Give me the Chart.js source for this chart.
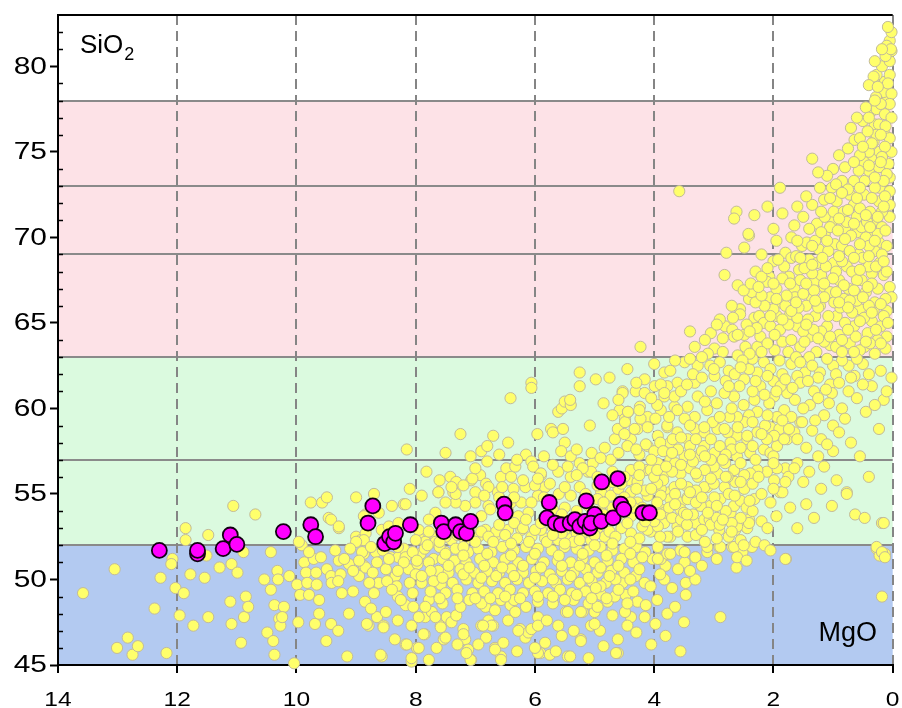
<!DOCTYPE html>
<html>
<head>
<meta charset="utf-8">
<script src="https://cdn.jsdelivr.net/npm/chart.js@4.4.1/dist/chart.umd.min.js"></script>
<style>
  html, body { margin: 0; padding: 0; background: #fff; }
  #wrap { width: 902px; height: 708px; position: relative; }
</style>
</head>
<body>
<div id="wrap"><canvas id="chart"></canvas></div>
<script>
// ================= DATA =================
// whole-rock compilation, [MgO wt%, SiO2 wt%]
const compilation = [
  [13.58,49.2],[13.05,50.6],[13.01,46.0],[12.83,46.6],[12.75,45.6],[12.66,46.1],[12.38,48.3],[12.28,50.1],[12.18,45.7],[12.08,51.2],
  [12.1,50.9],[12.03,49.5],[11.89,49.2],[11.96,47.9],[11.86,53.0],[11.86,52.3],[11.78,50.3],[11.73,47.3],[11.54,50.1],[11.48,52.6],
  [11.48,47.8],[11.51,51.4],[11.29,50.7],[11.11,48.7],[11.09,47.4],[11.06,54.3],[11.09,50.9],[10.99,50.4],[10.88,47.8],[10.93,46.3],
  [10.85,49.0],[10.81,48.4],[10.89,51.6],[10.69,53.8],[10.54,50.0],[10.49,46.9],[10.43,51.6],[10.39,46.4],[10.37,45.6],[10.43,49.4],
  [10.37,48.5],[10.32,50.5],[10.31,50.0],[10.29,47.7],[10.27,47.3],[10.21,48.4],[10.12,50.2],[10.24,47.8],[10.04,45.1],[9.97,47.5],
  [9.99,49.7],[9.94,49.1],[9.91,52.0],[9.87,51.0],[9.84,50.4],[9.82,49.8],[9.79,49.1],[9.76,54.5],[9.71,51.2],[9.67,50.4],
  [9.66,49.7],[9.62,48.8],[9.69,47.4],[9.62,48.0],[9.57,54.5],[9.49,54.8],[9.46,53.6],[9.59,51.3],[9.49,50.6],[9.42,50.2],
  [9.41,49.8],[9.42,47.4],[9.29,53.0],[9.29,51.1],[9.26,50.3],[9.24,49.2],[9.12,48.0],[9.15,45.5],[9.12,50.9],[9.0,54.8],
  [9.0,52.5],[8.95,50.2],[8.92,52.3],[8.87,51.5],[8.87,50.8],[8.84,50.7],[8.84,53.8],[8.84,52.7],[8.7,55.0],[8.79,47.3],
  [8.65,47.8],[8.62,49.8],[8.57,45.5],[8.57,52.9],[8.54,47.3],[8.5,48.1],[8.5,50.6],[8.45,53.1],[8.42,51.3],[8.4,54.3],
  [8.37,50.0],[8.34,50.2],[8.29,53.3],[8.32,49.6],[8.3,49.0],[8.29,51.3],[8.2,54.4],[8.2,51.8],[8.17,48.5],[8.17,46.2],
  [8.12,50.6],[8.07,47.3],[8.07,45.2],[8.04,48.4],[7.98,46.0],[7.97,50.9],[7.94,52.4],[7.92,51.5],[7.9,49.8],[7.84,47.8],
  [7.85,46.8],[7.78,45.3],[7.78,48.8],[7.73,48.1],[7.7,51.2],[7.67,53.9],[7.62,55.1],[7.62,50.5],[7.58,49.7],[7.58,47.3],
  [7.53,46.5],[7.48,47.8],
  [8.59,45.6],[8.82,47.4],[8.54,47.2],[8.15,46.2],[8.07,45.4],[7.95,46.0],[7.87,46.8],[7.95,47.8],[7.84,48.4],[7.67,47.8],
  [7.58,47.2],[7.5,46.6],[7.4,47.5],[7.32,47.9],[7.25,48.4],[7.2,47.1],[7.17,46.5],[7.12,45.9],[7.07,45.3],[6.9,47.3],
  [6.82,46.6],[6.78,47.6],[6.7,47.3],[6.67,46.0],[6.57,45.5],[6.83,48.4],[6.67,48.2],[6.57,48.8],[6.41,48.5],[6.33,48.1],
  [6.25,47.1],[6.16,46.6],[6.11,46.9],[6.06,47.1],[5.95,47.8],[5.91,45.7],[5.83,46.3],[5.75,45.6],[5.61,47.3],[5.48,48.1],
  [5.45,45.5],[5.23,46.5],[5.2,48.1],[5.06,47.3],[5.0,48.1],[4.91,47.0],[4.78,48.7],[4.61,46.5],[4.61,45.7],[4.39,47.8],
  [4.16,47.8],[4.28,48.7],[4.14,48.5],[4.48,49.1],[4.66,49.0],[4.89,49.1],[4.81,49.8],[4.53,49.8],[4.31,50.2],[4.16,49.8],
  [4.03,51.2],[4.06,49.6],
  [5.95,45.7],[5.65,45.8],[5.41,45.5],[5.23,46.4],[5.0,47.4],[4.64,45.7],[4.49,48.1],[5.23,48.1],[5.45,48.1],[5.95,47.3],
  [6.28,47.0],[6.53,46.3],[6.73,47.3],[6.87,47.3],[7.2,46.8],[7.08,45.3],[7.15,45.7],[6.57,45.3],[6.67,45.9],
  [3.74,55.1],[3.56,54.5],[3.44,54.8],[3.31,53.3],[3.16,53.5],[3.06,54.3],[2.91,52.9],[2.72,53.9],[2.64,52.9],[2.47,53.1],
  [2.32,54.7],[2.41,53.5],[1.89,55.1],[1.72,54.2],[1.32,53.6],[1.02,54.3],[0.77,55.1],[0.63,53.8],[0.47,53.6],[0.18,53.3],
  [0.27,51.8],[0.22,51.4],[0.13,51.5],[0.18,49.0],[1.79,51.2],[2.62,50.7],[2.89,47.8],[3.56,45.8],[3.81,46.7],[3.98,47.4],
  [3.78,48.0],[3.47,49.8],[3.31,50.0],[3.47,49.1],[3.81,50.8],[3.83,50.0],[3.49,51.0],[3.31,51.3],[3.11,51.6],[2.91,51.9],
  [2.69,51.9],[2.52,51.6],[2.36,51.9],[3.89,51.2],[3.78,51.5],[3.56,51.7],[3.94,51.9],
  [1.15,56.6],[0.94,55.8],[0.4,56.0],[0.77,55.0],[1.85,55.1],[1.6,56.8],[1.8,56.5],[1.94,56.5],[1.99,55.8],[2.11,56.3],
  [2.27,56.4],[2.39,56.2],[2.49,55.3],[2.44,53.0],[2.61,53.1],[2.66,54.3],[3.07,53.5],[2.89,54.7],[2.99,54.8],[3.11,55.4],
  [2.82,55.4],[2.64,55.7],[2.49,56.1],[2.66,56.4],[2.77,56.0],[2.94,56.2],[2.81,56.8],[2.61,57.2],[2.39,57.4],[2.16,57.6],
  [2.05,57.4],[1.94,57.8],[1.77,58.2],[1.65,58.6],[1.55,59.2],[2.05,58.9],[2.27,58.6],[2.44,58.2],[2.61,58.4],[2.77,58.6],
  [2.94,58.8],[3.16,58.6],[3.32,58.8],[3.44,58.2],[3.61,58.6],[3.78,58.9],[3.94,58.4],[4.11,57.8],[3.73,58.0],[3.16,57.8],
  [2.99,57.4],[3.27,57.2],[3.49,57.2],[3.73,57.0],[3.94,56.8],[4.14,56.4],[3.83,56.2],[3.56,56.2],[3.27,56.0],[3.16,55.4],
  [3.44,55.4],[3.66,55.4],[3.89,55.3],[4.11,54.9],[3.73,54.7],[3.44,54.7],[3.22,54.3],[3.56,54.1],[3.89,54.1],[3.83,53.3],
  [3.61,53.1],[3.44,52.5],[3.73,52.5],[4.06,52.8],[2.41,53.3],[3.11,51.9],[2.89,51.9],[2.66,51.9],[2.61,51.3],[3.31,51.3],
  [3.49,51.6],[3.73,51.5],[3.94,51.2],[1.8,51.2],[0.27,51.9],[0.18,51.6],[0.13,51.3],[0.15,53.3],
  [8.15,57.6],[7.82,56.3],[7.62,55.1],[8.17,54.4],[7.42,56.0],[7.32,55.7],[7.25,58.5],[7.08,57.2],[7.07,55.8],[7.0,55.1],
  [6.92,56.1],[6.9,57.5],[6.8,57.8],[6.82,55.6],[6.7,58.4],[6.57,56.0],[6.48,56.5],[6.41,60.6],[6.4,56.0],[6.33,56.6],
  [6.36,55.3],[6.15,57.3],[6.06,61.5],[6.06,61.2],[6.06,56.9],[6.03,56.6],[5.96,58.5],[5.9,56.1],[5.83,55.4],[5.73,58.8],
  [5.7,58.6],[5.61,59.8],[5.55,60.0],[5.5,60.4],[5.4,60.2],[5.41,60.5],[5.53,58.8],[5.5,58.0],[5.56,57.5],[5.4,57.2],
  [5.25,62.1],[5.25,61.3],[4.98,61.7],[5.08,59.0],[5.25,56.8],[5.11,56.3],[5.03,56.8],[4.83,57.7],[4.83,55.4],[4.73,57.0],
  [4.66,58.2],[4.61,58.8],[4.58,59.9],[4.53,61.0],[4.49,59.4],[4.44,59.8],[4.39,58.2],[4.39,56.4],[4.31,61.0],[4.24,60.1],
  [4.28,58.8],[4.23,63.6],[4.16,61.7],[4.16,60.9],[4.11,59.5],[4.14,57.9],[4.06,56.4],[3.99,61.3],[3.89,59.9],[3.83,62.1],
  [3.83,60.7],[3.78,59.0],[3.73,62.2],[3.69,58.2],[3.66,60.1],
  [6.16,55.4],[5.95,54.9],[5.61,56.3],[5.4,56.0],[5.25,55.4],[5.06,56.3],[4.89,55.1],[4.73,54.9],[4.44,55.8],[4.39,55.1],
  [4.28,55.7],[4.28,54.5],[4.39,53.7],[4.39,52.7],[4.11,52.9],[3.89,54.9],[3.83,53.9],[3.94,53.1],[3.78,52.5],[4.83,52.5],
  [5.06,52.3],[5.4,52.4],[5.61,52.3],[5.83,52.4],[6.06,52.5],[6.23,52.9],[6.45,52.9],[6.67,52.5],[6.83,52.9],[6.9,53.7],
  [6.78,54.3],[6.4,54.5],[6.23,54.5],[6.06,54.5],[6.11,53.9],[6.28,53.7],[6.95,52.5],[7.17,52.3],[7.4,52.3],[7.67,52.5],
  [7.84,52.2],[7.95,52.9],[7.78,53.5],[6.78,55.4],[6.62,55.1],[7.0,54.5],[7.17,54.3],[7.33,54.5],[7.5,54.5],[7.37,55.1],
  [9.42,53.5],[9.29,53.1],[8.87,53.7],[8.62,53.9],[7.33,55.0],[7.4,55.4],[7.05,55.9],[6.75,54.1],[6.65,52.8],[9.96,52.2],
  [9.79,51.6],[8.87,52.3],[9.0,52.2],[8.9,51.6],[8.67,51.6],[8.17,51.3],[8.0,52.3],[7.78,52.8],[7.67,52.2],[7.5,52.5],
  [7.5,51.6],[7.33,51.8],[7.12,51.6],[6.9,52.8],[6.78,52.5],[6.73,51.6],
  [2.41,70.1],[2.49,69.4],[2.79,69.1],[2.82,67.8],[3.32,63.6],[2.99,63.5],[2.81,64.8],[2.69,64.6],[2.66,64.2],[2.49,64.3],
  [2.47,63.6],[2.27,63.6],[2.22,64.2],[2.56,65.8],[2.56,65.5],[2.41,66.4],[2.36,66.8],[2.32,65.3],[2.24,65.4],[2.16,65.0],
  [2.05,66.5],[2.05,64.8],[2.07,67.7],[2.11,67.4],[1.9,66.2],[1.94,65.4],[1.89,64.6],[1.85,63.9],[1.82,68.3],[1.8,69.1],
  [1.74,67.7],[1.72,65.5],[1.65,67.0],[1.64,66.5],[1.6,64.8],[1.57,68.1],[1.55,67.5],[1.52,69.5],[1.44,69.7],[1.4,68.7],
  [1.39,64.2],[1.35,66.4],[1.32,67.4],[1.27,68.5],[1.3,65.4],[1.24,69.3],[1.22,66.0],[1.15,67.1],[1.14,70.2],[1.1,64.8],
  [1.05,63.7],[0.99,68.5],[0.97,69.6],[0.94,65.4],[0.9,67.5],[0.85,69.5],[0.82,66.4],[0.77,68.3],[0.74,67.0],[0.72,63.8],
  [0.65,64.8],[0.6,70.3],[0.57,69.0],[0.55,65.8],[0.52,67.5],[0.47,63.6],[0.38,70.2],[0.35,67.9],[0.35,65.1],[0.32,65.7],
  [0.3,63.2],[0.23,69.7],[0.22,68.5],[0.15,67.8],[0.1,65.7],[0.05,67.1],[0.02,66.5],[0.02,61.8],[0.23,58.8],[0.74,62.5],
  [0.64,61.9],[0.74,61.0],[1.05,61.4],[1.02,60.9],[1.07,60.3],[1.15,59.6],[1.32,61.0],[1.39,60.2],[1.52,59.2],[1.47,62.1],
  [1.6,61.9],[1.64,60.5],[1.77,60.9],[1.82,59.9],[1.94,59.5],[1.99,60.7],[2.07,60.3],[1.9,58.8],[1.99,58.4],[2.14,59.0],
  [2.22,61.3],[2.27,62.1],[2.16,62.7],[2.05,62.3],[2.41,62.3],[2.49,61.7],[2.57,61.3],[2.66,60.7],[2.82,60.9],[2.32,60.5],
  [2.27,59.8],[2.41,59.6],[2.49,59.2],[2.61,59.5],[2.74,59.5],[2.82,58.8],[2.99,61.9],[3.06,62.5],[3.27,62.5],[3.49,62.7],
  [3.32,61.5],[3.61,61.5],[3.78,61.3],[3.66,60.7],[3.44,60.1],[3.27,60.7],[3.11,59.9],[3.02,59.2],[3.16,58.9],[3.32,59.5],
  [3.49,59.4],[3.61,59.9],[3.98,59.4],[4.11,58.9],[4.23,59.4],[4.33,58.8],[4.49,59.2],[4.44,59.8],[4.53,60.9],[3.89,61.4],
  [3.83,60.9],[2.72,58.0],[2.44,58.4],[2.11,58.2],[1.74,58.8],[1.6,58.2],[1.82,58.2],
  [1.7,70.0],[1.95,69.8],[2.2,69.0],[2.0,68.6],[2.3,68.0],[2.6,67.2],[2.5,66.9],[2.7,66.0],[2.9,65.2],[3.05,64.4],
  [3.15,64.0],[3.4,64.5],[3.1,63.2],[2.85,63.3],[2.6,63.1],[2.35,62.9],[1.98,63.4],[1.75,63.3],[1.55,63.6],[1.28,63.3],
  [1.2,64.5],[0.9,64.3],[0.8,65.0],[0.6,66.3],[0.45,66.8],[0.3,66.2],[0.2,64.8],[0.1,64.2],[0.42,64.4],[0.55,63.4],
  [0.85,62.8],[1.0,62.5],[1.22,62.1],[1.4,63.0],[1.7,62.6],[1.85,62.0],[2.0,61.6],[1.88,61.3],[1.55,61.5],[1.25,61.8],
  [0.95,62.0],[0.5,62.6],[0.35,61.3],[0.15,60.5],[1.05,66.8],[1.2,67.8],[1.45,66.0],[1.6,65.3],[1.8,66.0],[2.0,65.8],
  [2.15,66.0],[2.3,66.2],[1.5,64.5],[1.7,64.0],[2.1,63.8],[2.4,63.2],[0.68,68.0],[0.5,68.8],[0.3,69.2],[0.1,69.5],
  [0.45,70.0],[0.8,70.5],[1.0,71.0],[0.25,67.0],[0.4,68.3],[0.6,67.5],[0.95,68.0],[1.35,67.9],[1.7,68.8],
  [1.35,74.6],[0.8,74.1],[0.85,73.3],[0.64,75.7],[0.55,75.8],[1.89,72.9],[2.32,71.3],[2.62,71.5],[2.66,71.1],[2.42,70.2],
  [3.58,72.7],[1.35,71.9],[1.22,72.9],[1.02,72.9],[1.15,72.2],[1.27,70.8],[1.14,71.2],[0.94,72.1],[0.99,71.5],[1.05,70.6],
  [0.82,71.5],[0.77,70.9],[0.72,72.5],[0.65,71.9],[0.6,71.2],[0.52,70.6],[0.48,72.5],[0.47,73.3],[0.4,73.9],[0.38,71.5],
  [0.35,74.7],[0.32,75.6],[0.3,76.6],[0.35,77.4],[0.27,77.5],[0.22,75.0],[0.23,74.1],[0.22,72.9],[0.23,72.1],[0.27,70.9],
  [0.18,70.6],[0.15,76.2],[0.13,77.2],[0.1,78.0],[0.15,78.5],[0.22,79.1],[0.13,79.1],[0.27,79.5],[0.18,80.0],[0.05,80.3],
  [0.02,80.9],[0.05,81.5],[0.02,82.0],[0.05,79.5],[0.02,78.4],[0.05,77.8],[0.02,77.0],[0.05,75.8],[0.02,75.0],[0.07,74.3],
  [0.05,73.5],[0.05,72.7],[0.05,71.9],[0.05,71.2],[0.13,75.3],[0.18,74.7],[0.1,73.7],[0.15,73.3],[0.3,72.9],[0.13,72.4],
  [0.18,71.5],[0.43,70.9],[0.55,71.7],[0.23,76.6],[0.27,76.0],[0.4,75.0],[0.48,74.4],[0.57,73.9],[0.65,73.3],
  [0.32,79.4],[0.4,78.9],[0.28,78.2],[0.45,77.6],[0.5,76.8],[0.42,76.2],[0.6,77.0],[0.7,76.4],[0.75,75.2],[0.9,74.8],
  [1.0,74.0],[1.1,73.6],[1.25,73.8],[0.95,73.1],[0.75,72.8],[0.6,72.3],[0.85,72.6],[1.45,72.4],[1.6,71.8],[1.5,71.2],
  [1.4,70.5],[1.65,70.7],[1.85,71.4],[2.0,70.5],[2.1,71.8],[0.55,74.8],[0.65,74.4],[0.12,76.5],[0.2,77.8],[0.08,79.0],
  [0.12,80.6],[0.1,81.2],[0.08,82.3],[0.03,81.0],[0.3,80.3],[0.18,81.0],
  [9.35,51.7],[9.1,51.8],[8.75,51.9],[8.55,51.7],[8.3,51.9],[8.05,51.6],[7.85,51.8],[7.6,51.9],[7.2,51.9],[6.95,51.8],
  [6.55,51.9],[6.35,51.7],[6.15,51.9],[5.95,51.8],[5.72,51.7],[5.5,51.9],[5.3,51.8],[5.1,51.7],[4.9,51.9],[4.7,51.7],
  [4.5,51.8],[4.3,51.9],[4.15,51.6],
  [9.2,51.2],[8.95,51.1],[8.65,51.0],[8.45,51.2],[8.2,51.0],[7.98,51.1],[7.78,51.0],[7.55,51.2],[7.35,51.1],[7.15,51.0],
  [6.92,51.2],[6.7,51.0],[6.5,51.2],[6.28,51.0],[6.05,51.2],[5.85,51.0],[5.62,51.1],[5.4,51.0],[5.2,51.2],[5.0,51.0],
  [4.78,51.1],[4.55,51.2],[4.35,51.0],[4.2,51.3],
  [9.05,50.5],[8.72,50.4],[8.3,50.5],[8.0,50.3],[7.75,50.5],[7.45,50.4],[7.25,50.6],[7.02,50.4],[6.8,50.5],[6.6,50.4],
  [6.4,50.6],[6.2,50.4],[5.98,50.5],[5.75,50.3],[5.55,50.5],[5.35,50.4],[5.15,50.6],[4.95,50.4],[4.72,50.5],[4.5,50.4],
  [4.25,50.6],
  [9.3,49.9],[8.78,49.8],[8.48,49.9],[8.1,49.8],[7.7,49.9],[7.38,49.8],[7.15,50.0],[6.95,49.8],[6.72,49.9],[6.5,49.8],
  [6.3,50.0],[6.1,49.8],[5.88,49.9],[5.65,49.8],[5.45,50.0],[5.25,49.8],[5.05,49.9],[4.9,49.6],[4.65,50.0],
  [9.05,49.3],[8.7,49.2],[8.4,49.4],[8.05,49.2],[7.75,49.3],[7.5,49.2],[7.3,49.4],[7.05,49.2],[6.85,49.3],[6.62,49.2],
  [6.42,49.4],[6.2,49.2],[6.0,49.3],[5.78,49.2],[5.58,49.4],[5.38,49.2],[5.15,49.3],[4.98,49.5],
  [8.85,48.7],[8.25,48.8],[7.55,48.6],[7.1,48.8],[6.9,48.6],[6.35,48.8],[6.15,48.4],[5.95,48.7],[5.7,48.6],[5.35,48.8],
  [5.1,48.6],[4.95,48.4],[4.45,48.6],
  [5.9,52.9],[5.7,53.0],[5.5,52.9],[5.3,52.7],[5.15,52.8],[4.95,53.0],[4.75,52.8],[4.55,53.0],[4.2,53.1],[4.0,53.4],
  [3.7,53.6],[3.55,53.5],[3.3,52.6],[3.15,52.2],[2.95,52.4],[2.75,52.5],[2.55,52.3],[2.3,52.2],[2.15,52.0],[4.7,54.2],
  [4.9,54.0],[5.1,54.3],[5.5,54.2],[5.7,54.1],[5.85,54.8],[5.6,55.0],[5.4,54.9],[5.15,55.0],[4.95,54.7],[4.6,55.3],
  [4.5,56.0],[4.7,56.3],[4.95,56.0],[5.2,56.5],[5.45,56.6],[5.7,56.7],[5.85,57.2],[5.3,57.6],[5.05,57.4],[4.9,57.1],
  [4.6,57.4],[4.45,57.8],[4.25,57.3],[4.25,56.6],[4.0,57.5],[3.9,58.0],[3.6,57.6],[3.4,57.8],[3.2,57.5],[2.9,57.8],
  [2.7,57.6],[3.0,56.6],[3.15,56.4],[3.4,56.5],[3.65,56.8],[3.85,55.8],[3.55,55.6],[3.3,55.2],[3.0,55.6],[2.75,55.0],
  [2.55,54.6],[2.45,54.2],[2.8,54.0],[3.05,53.2],[2.95,53.6],[3.35,53.8],[3.95,55.6],[4.2,54.2],[4.5,54.8],[4.15,55.2],
  [4.0,56.0],
  [7.1,53.0],[7.3,52.6],[7.6,52.2],[7.8,52.0],[6.6,53.2],[6.35,53.3],[6.2,53.0],[6.45,54.0],[6.6,54.8],[6.85,54.9],
  [7.2,55.5],[7.6,55.8],[7.9,54.9],[8.1,55.3],[6.2,55.8],[6.0,55.5],[5.9,56.2],[6.3,57.0],[6.6,57.3],[7.0,56.5],
  [7.5,57.4],[6.45,58.0],[6.8,56.9],
  [0.12,63.5],[0.25,64.0],[0.38,63.8],[0.62,64.2],[0.75,64.6],[0.95,63.6],[1.15,63.9],[1.33,64.6],[1.48,63.9],[1.62,63.0],
  [1.9,62.8],[2.2,63.3],[2.52,62.8],[2.75,62.2],[2.9,62.7],[3.2,63.0],[0.15,65.4],[0.28,64.6],[0.48,65.3],[0.68,65.6],
  [0.88,65.9],[1.08,65.4],[1.25,65.9],[1.42,65.2],[1.58,65.9],[1.75,64.9],[1.98,64.3],[2.28,64.7],[2.45,64.9],[2.68,65.3],
  [0.12,66.4],[0.4,66.0],[0.72,66.3],[0.98,66.2],[1.15,66.5],[1.32,66.9],[1.5,66.7],[1.78,66.6],[1.95,67.0],[2.2,66.6],
  [2.38,67.3],[0.35,67.3],[0.5,66.5],[0.82,67.2],[1.0,67.6],[1.45,67.3],[1.85,67.6],[2.2,67.7],[0.1,68.0],[0.28,68.3],
  [0.55,68.1],[0.85,68.6],[1.12,68.3],[1.48,68.2],[1.62,68.9],[1.92,68.7],[0.18,69.0],[0.4,69.5],[0.72,69.2],[1.08,69.2],
  [1.3,69.8],[0.25,70.2],[0.7,70.1],[0.92,70.4],[1.2,70.3],
  [1.0,57.5],[1.2,58.2],[1.35,58.7],[1.45,57.7],[1.3,59.3],[1.0,59.0],[0.85,60.0],[0.6,60.6],[1.25,60.6],[1.5,60.0],
  [1.7,59.5],[1.68,61.2],[1.42,61.6],[1.12,61.1],[0.9,61.5],[1.95,61.0],[2.15,60.8],[2.35,61.0],[2.5,60.2],[2.7,60.0],
  [2.95,60.3],[3.15,60.4],[3.05,61.0],[2.8,61.6],[2.65,62.0],[3.35,62.0],[3.55,61.0],[3.4,59.0],[3.75,59.5],[3.95,60.2],
  [4.05,60.6],[4.25,59.9],[4.3,61.5],[4.0,62.6],[2.9,59.5],[2.6,58.9],[2.35,59.2],[2.2,58.5],[2.1,59.6],[1.85,59.3],
  [2.0,57.2],[2.35,57.8],[2.55,57.7],[2.8,57.3],[3.05,58.2],[3.3,58.2],[3.55,58.3],[3.85,57.5],[4.3,57.6],[4.5,58.5],
  [4.7,59.6],[4.85,60.3],[4.6,60.5],[4.75,61.8],[4.45,62.3],
  [2.2,53.4],[2.35,54.0],[2.55,53.6],[2.7,53.3],[2.9,53.2],[3.2,52.9],[3.45,53.2],[3.6,52.8],[3.9,52.5],[4.25,52.4],
  [4.45,53.3],[4.65,52.5],[4.85,53.8],[5.0,52.6],[5.35,52.2],[5.55,52.7],[5.8,52.2],[6.0,52.9],[6.3,52.4],[6.5,52.6],
  [4.1,53.7],[4.35,54.2],[4.6,53.8],[4.85,54.5],[5.3,54.0],[5.55,53.8],[5.9,53.3],[6.15,53.5],[6.35,54.8],[6.55,55.4],
  [5.95,55.9],[5.75,55.6],[5.5,55.4],[5.3,56.1],[4.95,55.5],[4.7,55.7],[4.25,56.1],[3.95,56.4],[3.7,56.3],[3.35,56.9],
  [3.05,57.0],[2.35,55.6],[2.2,55.0],[2.05,54.5],[1.95,53.7],[2.1,53.0],[1.6,53.0],[1.45,54.4],[1.2,55.3],[1.5,55.7],
  [1.75,56.0],
  [3.6,50.6],[3.9,50.3],[3.7,49.5],[3.95,48.8],[3.4,50.5],[3.2,50.8],[2.95,51.2],[2.45,51.1],[2.05,51.7],[3.65,48.4],
  [3.5,47.5],[4.05,46.2],
  [4.3,46.9],[4.45,47.3],[4.7,47.9],[4.85,46.1],[5.1,45.4],[5.35,47.0],[5.55,46.7],[5.8,47.6],[6.0,46.0],[6.3,45.8],
  [6.45,47.6],[6.95,46.2],[7.3,46.2],[7.65,46.0],[8.3,47.6],[8.35,46.5],[8.75,48.3],[9.3,47.0],[9.5,46.4],
  [0.55,57.2],[0.7,58.0],[0.9,58.6],[1.1,57.9],[1.25,57.2],[0.8,59.4],[0.45,59.8],[0.3,60.2],[0.5,61.4],[0.7,61.8],
  [0.6,62.9],[0.85,63.3],[0.2,62.2],[0.1,61.0],[0.4,62.0],[1.1,62.9],[1.35,62.5],[1.55,62.7],[1.8,61.7],[2.1,61.9],
  [2.3,61.6],[2.55,62.4],[2.75,61.3],[3.0,62.3],[3.2,61.8],[3.45,61.4],[3.4,62.9],[3.65,62.8],
  [0.2,63.8],[0.45,63.9],[0.65,63.3],[0.85,64.0],[1.05,64.2],[1.25,64.1],[1.45,64.9],[1.7,65.7],[1.85,65.2],[2.05,65.4],
  [2.4,64.5],[2.6,64.3],[2.85,64.1],[2.95,64.9],
  [0.08,65.0],[0.35,65.6],[0.55,65.1],[0.75,65.9],[0.95,66.8],[1.3,66.3],[1.62,66.2],[1.95,66.4],[2.25,67.1],[0.2,66.1],
  [0.42,67.1],[0.65,66.9],[0.9,66.2],[1.15,67.3],[1.72,67.3],[2.0,67.3],
  [0.15,68.6],[0.4,68.9],[0.65,68.8],[0.9,68.9],[1.18,68.8],[1.35,68.4],[1.55,68.8],[2.1,68.2],[0.3,69.8],[0.55,69.6],
  [0.8,69.9],[1.1,69.8],[1.35,69.5],[1.6,69.8],[0.12,70.4],[0.38,70.6],[0.65,70.8],[0.9,71.1],[1.2,71.5],[0.25,71.2],
  [0.45,71.3],[0.75,71.6],[1.05,72.3],[0.35,72.3],[0.55,72.9],[0.15,71.8],[0.3,73.5],[0.2,74.4],[0.4,74.2],[0.35,75.5],
  [0.5,75.3],[0.2,76.0],[0.4,77.0],[0.25,78.8],[0.3,78.0],
  [2.5,52.0],[2.7,52.8],[2.85,53.5],[3.1,53.9],[3.3,54.5],[3.5,53.9],[3.75,54.2],[3.95,54.5],[4.05,55.3],[3.65,55.0],
  [3.4,55.1],[3.2,54.8],[2.95,54.3],[2.65,54.9],[2.4,54.6],[2.55,55.7],[2.8,56.0],[3.05,55.9],[3.3,56.2],[3.55,56.7],
  [3.8,56.6],[4.05,57.0],[4.3,55.3],[4.55,55.6],[4.4,54.5],[4.15,53.4],[3.9,53.8],[3.65,54.4],[3.45,53.8],[2.25,56.0],
  [2.0,56.8],[2.3,57.0],[2.55,56.8],[2.85,57.0],[3.15,57.2],[3.4,57.3],[3.7,57.4],[2.0,55.3],[1.8,55.7],[1.65,56.5],
  [1.4,56.3],
  [4.35,49.3],[4.6,49.4],[4.8,48.9],[5.05,48.9],[5.3,49.1],[5.5,48.8],[5.7,49.0],[5.95,49.0],[6.25,48.9],[6.5,49.0],
  [6.75,48.9],[7.0,48.9],[7.3,48.9],[7.6,48.9],[4.4,50.0],[4.75,50.2],[5.1,50.1],[5.4,50.2],[5.7,50.0],[6.0,50.1],
  [6.35,50.2],[6.65,50.2],[6.9,50.1],[7.2,50.3],[7.55,50.1],[7.9,50.2],[4.6,50.8],[4.9,50.7],[5.25,50.8],[5.55,50.8],
  [5.9,50.7],[6.2,50.8],[6.55,50.7],[6.85,50.8],[7.1,50.7],[7.45,50.8],[4.4,51.5],[4.8,51.4],[5.2,51.5],[5.6,51.4],
  [6.0,51.5],[6.4,51.4],[6.8,51.5],[7.2,51.4],[7.5,51.5],
  [4.4,52.2],[4.7,52.1],[5.0,52.0],[5.25,52.3],[5.5,52.1],[5.7,52.6],[6.1,52.2],[6.4,52.1],[6.7,52.2],[7.0,52.2]
];

// analysed samples, [MgO wt%, SiO2 wt%]
const samples = [
  [12.30,51.7],[11.66,51.5],[11.66,51.7],[11.23,51.8],[11.11,52.6],[11.0,52.05],[10.22,52.8],[9.76,53.2],[9.68,52.5],[8.72,54.3],
  [8.80,53.3],[8.52,52.1],[8.44,52.5],[8.37,52.2],[8.34,52.7],[8.09,53.2],[7.57,53.3],[7.53,52.8],[7.33,53.2],[7.25,52.8],
  [7.15,52.7],[7.08,53.4],[6.52,54.4],[6.50,53.9],[5.76,54.5],[5.80,53.6],[5.66,53.3],[5.56,53.2],[5.41,53.3],[5.33,53.5],
  [5.25,53.1],[5.16,53.4],[5.08,53.0],[5.00,53.8],[5.14,54.6],[5.06,53.3],[4.89,53.4],[4.88,55.7],[4.61,55.9],[4.69,53.6],
  [4.56,54.4],[4.51,54.1],[4.19,53.9],[4.08,53.9]
];

// axis tick labels
const mgoTicks = [14, 12, 10, 8, 6, 4, 2, 0];
const sio2Ticks = [45, 50, 55, 60, 65, 70, 75, 80];

// SiO2 classification fields: [from, to, colour]
const fields = [
  [45, 52, "#b3caf1"],
  [52, 63, "#dbfadf"],
  [63, 78, "#fde2e7"]
];
const boundaries = [52, 57, 63, 69, 73, 78];

const FONT = "'Liberation Sans', Arial, sans-serif";

// text drawn a little wider than the font's own width
function wideText(ctx, text, x, y, sx, align) {
  ctx.save();
  ctx.translate(x, y);
  ctx.scale(sx, 1);
  ctx.textAlign = align;
  ctx.fillText(text, 0, 0);
  ctx.restore();
}

// ================= DECORATIONS =================
const fieldsPlugin = {
  id: "fields",
  beforeDraw(chart) {
    const { ctx, chartArea: a, scales: { y } } = chart;
    ctx.save();
    fields.forEach(([lo, hi, c]) => {
      const top = y.getPixelForValue(hi);
      const bot = y.getPixelForValue(lo);
      ctx.fillStyle = c;
      ctx.fillRect(a.left, top, a.right - a.left, bot - top);
    });
    ctx.strokeStyle = "#8a8a8a";
    ctx.lineWidth = 2;
    boundaries.forEach(v => {
      const py = Math.round(y.getPixelForValue(v));
      ctx.beginPath();
      ctx.moveTo(a.left, py);
      ctx.lineTo(a.right, py);
      ctx.stroke();
    });
    ctx.restore();
  },
  afterDraw(chart) {
    const { ctx, chartArea: a, scales: { x, y } } = chart;
    ctx.save();
    // minor ticks on the SiO2 axis, pointing inward
    ctx.strokeStyle = "#000";
    ctx.lineWidth = 1.5;
    for (let v = 46; v <= 82; v++) {
      if (v % 5 === 0) continue;
      const py = Math.round(y.getPixelForValue(v)) + 0.5;
      ctx.beginPath();
      ctx.moveTo(a.left, py);
      ctx.lineTo(a.left + 5, py);
      ctx.stroke();
    }
    // top frame
    ctx.lineWidth = 2;
    ctx.beginPath();
    ctx.moveTo(a.left - 1, a.top);
    ctx.lineTo(a.right, a.top);
    ctx.stroke();

    // tick labels
    ctx.fillStyle = "#000";
    ctx.font = "23px " + FONT;
    ctx.textBaseline = "middle";
    sio2Ticks.forEach(v => wideText(ctx, String(v), 47, y.getPixelForValue(v) + 1, 1.3, "right"));
    ctx.font = "21px " + FONT;
    ctx.textBaseline = "alphabetic";
    mgoTicks.forEach(v => wideText(ctx, String(v), x.getPixelForValue(v), 706, 1.17, "center"));

    // axis names inside the plot
    ctx.textAlign = "left";
    ctx.font = "26px " + FONT;
    ctx.fillText("SiO", 80, 53);
    const w = ctx.measureText("SiO").width;
    ctx.font = "18px " + FONT;
    ctx.fillText("2", 80 + w + 1, 60);
    ctx.font = "27px " + FONT;
    ctx.textAlign = "right";
    ctx.fillText("MgO", 877, 641);
    ctx.restore();
  }
};

// ================= CHART =================
new Chart(document.getElementById("chart"), {
  type: "scatter",
  data: {
    datasets: [
      {
        label: "Samples",
        data: samples.map(([x, y]) => ({ x, y })),
        backgroundColor: "#ff00ff",
        borderColor: "#120012",
        borderWidth: 1.8,
        pointRadius: 7.5,
        pointHoverRadius: 7.5
      },
      {
        label: "Compilation",
        data: compilation.map(([x, y]) => ({ x, y })),
        backgroundColor: "#ffff6b",
        borderColor: "#c2bb9a",
        borderWidth: 1,
        pointRadius: 5.6,
        pointHoverRadius: 5.6
      }
    ]
  },
  options: {
    responsive: true,
    maintainAspectRatio: false,
    animation: false,
    clip: false,
    layout: { padding: { top: 15, right: 6, left: 0, bottom: 0 } },
    plugins: {
      legend: { display: false },
      tooltip: { enabled: false }
    },
    scales: {
      x: {
        type: "linear",
        reverse: true,
        min: 0,
        max: 14,
        afterFit: s => { s.height = 43; },
        ticks: { stepSize: 2, display: false },
        grid: { color: "#858585", lineWidth: 2, tickColor: "#000", tickWidth: 2, tickLength: 8 },
        border: { color: "#000", width: 2, dash: [10, 6] }
      },
      y: {
        min: 45,
        max: 83,
        afterFit: s => { s.width = 58; },
        ticks: { stepSize: 5, includeBounds: false, display: false },
        grid: { drawOnChartArea: false, tickColor: "#000", tickWidth: 2, tickLength: 8 },
        border: { color: "#000", width: 2 }
      }
    }
  },
  plugins: [fieldsPlugin]
});
</script>
</body>
</html>
